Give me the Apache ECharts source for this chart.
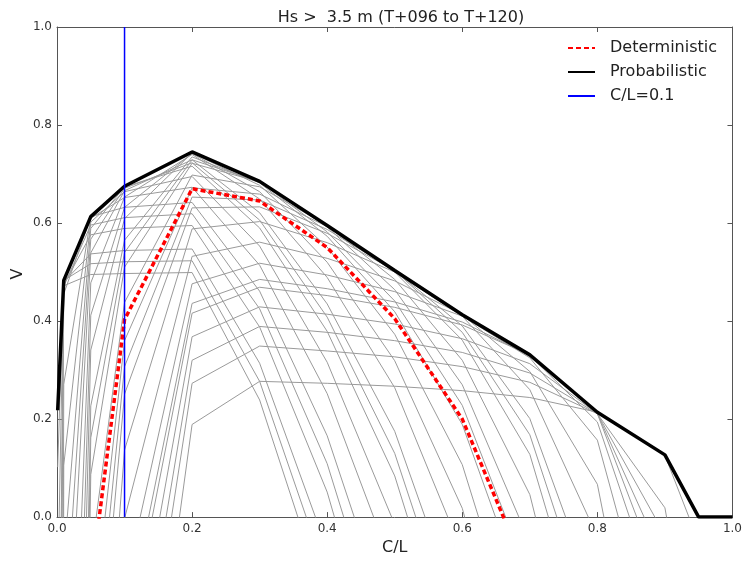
<!DOCTYPE html>
<html><head><meta charset="utf-8">
<script src="https://cdn.jsdelivr.net/npm/echarts/dist/echarts.min.js"></script>
<style>html,body{margin:0;padding:0;background:#fff}#c{width:745px;height:561px}</style>
</head><body><div id="c"></div>
<script>
// cost/loss ratios at which value was evaluated
const costLoss = [0.001, 0.01, 0.05, 0.1, 0.2, 0.3, 0.4, 0.5, 0.6, 0.7, 0.8, 0.9, 0.95];
const costLossEnvelope = [0.001, 0.01, 0.05, 0.1, 0.2, 0.3, 0.4, 0.5, 0.6, 0.7, 0.8, 0.9, 0.95, 1.0];
// envelope of probabilistic value
const probabilistic = [0.218, 0.483, 0.613, 0.675, 0.745, 0.685, 0.595, 0.503, 0.413, 0.331, 0.214, 0.127, 0, 0];
// deterministic forecast value
const deterministic = [-52.7, -4.42, -0.135, 0.403, 0.67, 0.645, 0.55, 0.405, 0.2, -0.128, -0.85, -2.9, -6.0];
// C/L = 0.1 marker line
const markerCL = 0.1;
// value curves for the individual probability thresholds (grey lines)
const thresholdValues = [
  [0.218, 0.472, 0.495, 0.497, 0.499, 0.239, -0.183, -0.774, -1.66, -3.14, -6.09, -14.95, -32.7],
  [0.102, 0.483, 0.517, 0.521, 0.523, 0.277, -0.124, -0.686, -1.527, -2.93, -5.737, -14.16, -31.0],
  [-0.155, 0.480, 0.537, 0.544, 0.547, 0.314, -0.066, -0.598, -1.395, -2.724, -5.38, -13.36, -29.3],
  [-0.668, 0.474, 0.576, 0.589, 0.595, 0.388, 0.051, -0.423, -1.131, -2.313, -4.68, -11.77, -25.95],
  [-0.925, 0.471, 0.596, 0.611, 0.619, 0.425, 0.109, -0.335, -0.999, -2.106, -4.322, -10.97, -24.26],
  [-1.323, 0.455, 0.613, 0.632, 0.642, 0.461, 0.166, -0.248, -0.869, -1.902, -3.971, -10.18, -22.59],
  [-3.537, 0.271, 0.610, 0.652, 0.673, 0.514, 0.252, -0.114, -0.664, -1.579, -3.411, -8.906, -19.9],
  [-5.48, 0.106, 0.602, 0.664, 0.695, 0.553, 0.316, -0.015, -0.511, -1.338, -2.992, -7.955, -17.88],
  [-7.70, -0.088, 0.589, 0.674, 0.716, 0.590, 0.379, 0.084, -0.359, -1.098, -2.575, -7.007, -15.87],
  [-9.66, -0.268, 0.567, 0.671, 0.723, 0.606, 0.408, 0.130, -0.287, -0.981, -2.369, -6.534, -14.86],
  [-11.9, -0.476, 0.539, 0.666, 0.729, 0.621, 0.435, 0.175, -0.215, -0.865, -2.165, -6.065, -13.87],
  [-16.66, -0.921, 0.478, 0.653, 0.740, 0.649, 0.489, 0.264, -0.072, -0.634, -1.756, -5.124, -11.86],
  [-21.15, -1.348, 0.412, 0.632, 0.742, 0.664, 0.520, 0.319, 0.018, -0.484, -1.489, -4.502, -10.53],
  [-25.92, -1.802, 0.341, 0.609, 0.743, 0.677, 0.551, 0.373, 0.107, -0.336, -1.222, -3.881, -9.199],
  [-32.9, -2.48, 0.227, 0.565, 0.735, 0.682, 0.573, 0.419, 0.189, -0.195, -0.964, -3.268, -7.877],
  [-36.9, -2.861, 0.162, 0.540, 0.729, 0.684, 0.582, 0.441, 0.228, -0.127, -0.836, -2.963, -7.217],
  [-41.4, -3.297, 0.087, 0.510, 0.722, 0.684, 0.592, 0.464, 0.270, -0.052, -0.696, -2.628, -6.492],
  [-51.2, -4.258, -0.084, 0.438, 0.698, 0.674, 0.595, 0.485, 0.320, 0.046, -0.504, -2.152, -5.449],
  [-61.4, -5.25, -0.263, 0.360, 0.672, 0.659, 0.593, 0.500, 0.361, 0.128, -0.337, -1.732, -4.522],
  [-68.1, -5.911, -0.384, 0.307, 0.653, 0.647, 0.587, 0.503, 0.377, 0.168, -0.252, -1.510, -4.027],
  [-75.1, -6.60, -0.511, 0.251, 0.631, 0.633, 0.579, 0.503, 0.390, 0.201, -0.178, -1.312, -3.58],
  [-89.2, -7.98, -0.766, 0.137, 0.588, 0.603, 0.560, 0.500, 0.410, 0.260, -0.040, -0.941, -2.742],
  [-106.1, -9.65, -1.075, -0.003, 0.532, 0.561, 0.528, 0.482, 0.413, 0.297, 0.067, -0.625, -2.008],
  [-122.7, -11.28, -1.381, -0.143, 0.476, 0.518, 0.494, 0.460, 0.410, 0.325, 0.157, -0.348, -1.358],
  [-134.3, -12.42, -1.595, -0.241, 0.436, 0.485, 0.466, 0.439, 0.398, 0.330, 0.194, -0.214, -1.03],
  [-139.9, -13.0, -1.70, -0.289, 0.416, 0.469, 0.452, 0.428, 0.392, 0.331, 0.211, -0.151, -0.874],
  [-152.6, -14.23, -1.938, -0.400, 0.368, 0.429, 0.414, 0.394, 0.364, 0.313, 0.211, -0.094, -0.704],
  [-165.3, -15.49, -2.176, -0.511, 0.320, 0.389, 0.377, 0.360, 0.336, 0.294, 0.211, -0.037, -0.532],
  [-178, -16.74, -2.414, -0.623, 0.273, 0.349, 0.339, 0.327, 0.307, 0.275, 0.211, 0.019, -0.367],
  [-200.5, -18.97, -2.837, -0.82, 0.189, 0.277, 0.273, 0.267, 0.258, 0.244, 0.214, 0.126, -0.051]
];
const titleText = 'Hs >  3.5 m (T+096 to T+120)';
const xAxisTitle = 'C/L';
const yAxisTitle = 'V';

const FONT = 'DejaVu Sans';
const chart = echarts.init(document.getElementById('c'), null, {renderer: 'canvas'});

const pairs = (xs, ys) => xs.map((x, i) => [x, ys[i]]);

const series = thresholdValues.map(v => ({
  type: 'line', data: pairs(costLoss, v), symbol: 'none', showSymbol: false,
  silent: true, clip: true, z: 1,
  lineStyle: {color: '#9a9a9a', width: 1}
}));
series.push({
  name: 'Deterministic', type: 'line', data: pairs(costLoss, deterministic),
  symbol: 'none', clip: true, z: 3,
  lineStyle: {color: '#ff0000', width: 3.5, type: [5, 3]}, itemStyle: {color: '#ff0000'}
});
series.push({
  name: 'Probabilistic', type: 'line', data: pairs(costLossEnvelope, probabilistic),
  symbol: 'none', clip: true, z: 4,
  lineStyle: {color: '#000000', width: 3.5}, itemStyle: {color: '#000000'}
});
series.push({
  name: 'C/L=0.1', type: 'line', data: [[markerCL, 0], [markerCL, 1]],
  symbol: 'none', clip: true, z: 5,
  lineStyle: {color: '#0000ff', width: 1.5}, itemStyle: {color: '#0000ff'}
});

const axisCommon = {
  min: 0, max: 1, interval: 0.2,
  axisLine: {show: true, onZero: false, lineStyle: {color: '#555', width: 1}},
  axisTick: {show: true, inside: true, length: 5, lineStyle: {color: '#555'}},
  splitLine: {show: false}
};

chart.setOption({
  animation: false,
  backgroundColor: '#fff',
  title: {
    text: titleText, left: 396, top: 5, textAlign: 'center',
    textStyle: {fontFamily: FONT, fontSize: 16, fontWeight: 'normal', color: '#222'}
  },
  legend: {
    data: ['Deterministic', 'Probabilistic', 'C/L=0.1'],
    orient: 'vertical', left: 562, top: 35,
    itemWidth: 27, itemHeight: 14, itemGap: 8,
    itemStyle: {opacity: 0},
    textStyle: {fontFamily: FONT, fontSize: 16, color: '#222', padding: [0, 0, 0, 10]}
  },
  graphic: [{
    type: 'text', x: 18, y: 274, rotation: Math.PI / 2,
    style: {text: yAxisTitle, font: '16px "DejaVu Sans"', fill: '#222',
      align: 'center', verticalAlign: 'middle'}
  }],
  grid: {left: 57, top: 27, width: 678, height: 494, containLabel: false},
  xAxis: [
    Object.assign({}, axisCommon, {
      type: 'value', position: 'bottom',
      name: xAxisTitle, nameLocation: 'middle', nameGap: 18,
      nameTextStyle: {fontFamily: FONT, fontSize: 16, color: '#222'},
      axisLabel: {fontFamily: FONT, fontSize: 12, color: '#333', margin: 6,
        formatter: v => v.toFixed(1)}
    }),
    Object.assign({}, axisCommon, {
      type: 'value', position: 'top', axisLabel: {show: false}
    })
  ],
  yAxis: [
    Object.assign({}, axisCommon, {
      type: 'value', position: 'left',
      axisLabel: {fontFamily: FONT, fontSize: 12, color: '#333', margin: 5,
        formatter: v => v.toFixed(1)}
    }),
    Object.assign({}, axisCommon, {
      type: 'value', position: 'right', axisLabel: {show: false}
    })
  ],
  series: series
});
</script></body></html>
